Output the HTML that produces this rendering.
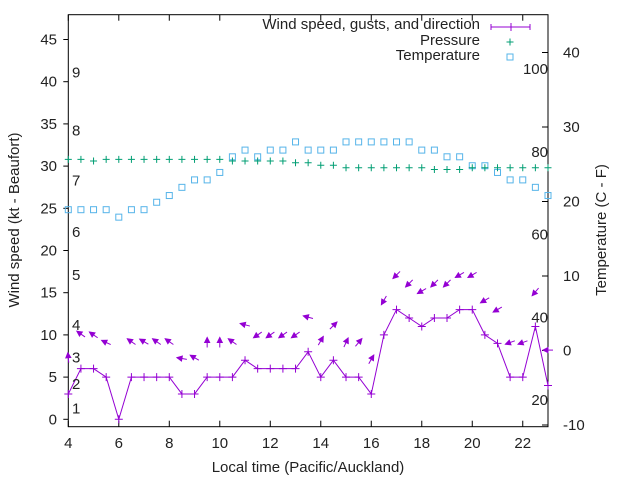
<!DOCTYPE html>
<html><head><meta charset="utf-8"><style>
body{margin:0;background:#fff}
svg text{font-family:"Liberation Sans",sans-serif;font-size:15px;fill:#222}
</style></head><body>
<svg id="chart" width="640" height="480" viewBox="0 0 640 480">
<rect width="640" height="480" fill="#fff"/>
<g id="grid"></g>
<g id="marks"></g>
<g id="labels"></g>
</svg>
<script>
const times=[4,4.5,5,5.5,6,6.5,7,7.5,8,8.5,9,9.5,10,10.5,11,11.5,12,12.5,13,13.5,14,14.5,15,15.5,16,16.5,17,17.5,18,18.5,19,19.5,20,20.5,21,21.5,22,22.5,23];
const windSpeed=[3,6,6,5,0,5,5,5,5,3,3,5,5,5,7,6,6,6,6,8,5,7,5,5,3,10,13,12,11,12,12,13,13,10,9,5,5,11,4];
const gusts=[7.3,10.1,10,9.1,null,9.2,9.2,9.2,9.2,7.2,7.3,9.1,9.1,9.2,11.2,10,10,10,10,12.1,9.3,11.1,9.1,9.1,7.1,14.1,17.1,16.1,15.2,16.1,16.1,17.1,17.1,14.1,13,9.1,9.1,15.1,8.2];
const heading=[95,145,145,155,null,145,150,145,145,170,150,90,90,145,165,215,215,215,215,165,60,45,65,50,60,240,225,225,210,225,225,210,210,210,210,200,200,230,180];
const pressure=[30.8,30.8,30.6,30.8,30.8,30.8,30.8,30.8,30.8,30.8,30.8,30.8,30.8,30.6,30.6,30.6,30.6,30.6,30.4,30.4,30.1,30.1,29.8,29.8,29.8,29.8,29.8,29.8,29.8,29.6,29.6,29.6,29.8,29.8,29.8,29.8,29.8,29.8,29.8];
const temperature=[18.9,18.9,18.9,18.9,17.9,18.9,18.9,19.9,20.8,21.9,22.9,22.9,23.9,26,26.9,26,26.9,26.9,28,26.9,26.9,26.9,28,28,28,28,28,28,26.9,26.9,26,26,24.8,24.8,23.9,22.9,22.9,21.9,20.8];
const xTicks=[4,6,8,10,12,14,16,18,20,22];
const yTicks=[0,5,10,15,20,25,30,35,40,45];
const y2Ticks=[-10,0,10,20,30,40];
const fTicks=[20,40,60,80,100];
const beaufortLabels=["1","2","3","4","5","6","7","8","9"];
const beaufortPos=[1.3,4.2,7.3,11.2,17.1,22.2,28.3,34.2,41.1];

const L=68.3,R=548,T=14.7,B=426.7;
const X=t=>L+(t-4)*(R-L)/19;
const Y=v=>419.3-v*8.44;
const Y2=c=>350.5-c*7.45;
const NS="http://www.w3.org/2000/svg";
function mk(tag,attrs,parent){const e=document.createElementNS(NS,tag);for(const k in attrs)e.setAttribute(k,attrs[k]);parent.appendChild(e);return e;}
const grid=document.getElementById('grid'),marks=document.getElementById('marks'),labels=document.getElementById('labels');

let box=mk('rect',{x:L,y:T,width:R-L,height:B-T,fill:'none',stroke:'#000','stroke-width':1},grid);



xTicks.forEach(t=>{
  const x=X(t);
  mk('line',{x1:x,y1:B,x2:x,y2:B-6,stroke:'#000'},grid);
  mk('line',{x1:x,y1:T,x2:x,y2:T+6,stroke:'#000'},grid);
  const tx=mk('text',{x:x,y:448,'text-anchor':'middle'},labels);tx.textContent=t;
  
  
});
yTicks.forEach(v=>{
  const y=Y(v);
  mk('line',{x1:L-5,y1:y,x2:L,y2:y,stroke:'#000'},grid);
  const tx=mk('text',{x:57,y:y+5,'text-anchor':'end'},labels);tx.textContent=v;
  
  
});
y2Ticks.forEach(c=>{
  const y=Y2(c);
  mk('line',{x1:R-6,y1:y,x2:R,y2:y,stroke:'#000'},grid);
  const tx=mk('text',{x:563,y:y+5,'text-anchor':'start'},labels);tx.textContent=c;
  
  
});
fTicks.forEach(f=>{
  const y=Y2((f-32)*5/9);
  const tx=mk('text',{x:548,y:y+5,'text-anchor':'end'},labels);tx.textContent=f;
  
  
});
beaufortLabels.forEach((b,i)=>{
  const tx=mk('text',{x:72,y:Y(beaufortPos[i])+5},labels);tx.textContent=b;
  
  
});

const PC='#9400d3',GC='#009e73',TC='#56b4e9';
// temperature
temperature.forEach((c,i)=>{
  const r=mk('rect',{x:X(times[i])-3,y:Y2(c)-3,width:6,height:6,fill:'none',stroke:TC,'stroke-width':1},marks);
  
  
});
// pressure
pressure.forEach((p,i)=>{
  const x=X(times[i]),y=Y(p);
  const g=mk('path',{d:`M${x-3.5},${y}H${x+3.5}M${x},${y-3.5}V${y+3.5}`,stroke:GC,'stroke-width':1},marks);
  
  
});
// wind line
const ln=mk('polyline',{points:windSpeed.map((w,i)=>X(times[i])+','+Y(w)).join(' '),fill:'none',stroke:PC,'stroke-width':1},marks);


windSpeed.forEach((w,i)=>{
  const x=X(times[i]),y=Y(w);
  const g=mk('path',{d:`M${x-4},${y}H${x+4}M${x},${y-4}V${y+4}`,stroke:PC,'stroke-width':1},marks);
  
  
});
// gust arrows
gusts.forEach((g,i)=>{
  if(g===null)return;
  const cx=X(times[i]),cy=Y(g),a=heading[i]*Math.PI/180;
  const dx=Math.cos(a),dy=-Math.sin(a),len=10;
  const hx=cx+dx*len/2,hy=cy+dy*len/2,tx=cx-dx*len/2,ty=cy-dy*len/2;
  const px=-dy,py=dx;
  const bx=hx-dx*5,by=hy-dy*5;
  const grp=mk('g',{},marks);
  
  
  mk('line',{x1:tx,y1:ty,x2:hx,y2:hy,stroke:PC,'stroke-width':1},grp);
  mk('polygon',{points:`${hx},${hy} ${bx+px*2.5},${by+py*2.5} ${bx-px*2.5},${by-py*2.5}`,fill:PC,stroke:PC,'stroke-width':1},grp);
});

// legend
const leg=mk('g',{},labels);


[['Wind speed, gusts, and direction',29],['Pressure',45],['Temperature',60]].forEach(([s,y])=>{
  const t=mk('text',{x:480,y:y,'text-anchor':'end'},leg);t.textContent=s;
  
  
});
mk('path',{d:'M491,27H530M491,24V30M530,24V30M511,23V31',stroke:PC,fill:'none'},leg);
mk('path',{d:'M506.5,42H513.5M510,38.5V45.5',stroke:GC},leg);
mk('rect',{x:507,y:54,width:6,height:6,fill:'none',stroke:TC},leg);

// axis titles
let t1=mk('text',{x:308,y:472,'text-anchor':'middle'},labels);t1.textContent='Local time (Pacific/Auckland)';


let t2=mk('text',{x:0,y:0,'text-anchor':'middle',transform:'translate(19,220) rotate(-90)'},labels);t2.textContent='Wind speed (kt - Beaufort)';


let t3=mk('text',{x:0,y:0,'text-anchor':'middle',transform:'translate(606,230) rotate(-90)'},labels);t3.textContent='Temperature (C - F)';


</script>
</body></html>
